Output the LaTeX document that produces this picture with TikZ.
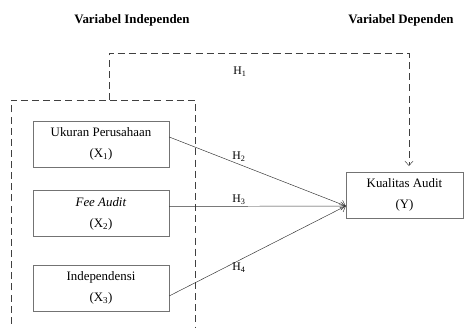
\documentclass[tikz,border=0pt]{standalone}
\usepackage{fontspec}
\setmainfont{Liberation Serif}
\usetikzlibrary{positioning}
\usetikzlibrary{arrows.meta}

\tikzset{
  varbox/.style={draw=black!55, minimum width=4.08cm, minimum height=1.38cm, align=center, inner sep=0pt},
  hlabel/.style={inner sep=0pt, font=\fontsize{10}{12}\selectfont},
  dashline/.style={draw=black!75, dash pattern=on 6pt off 3.5pt},
  link/.style={draw=black!80, -{Straight Barb[length=4pt,width=7pt]}},
}

\begin{document}
\begin{tikzpicture}[x=0.03cm, y=-0.03cm, font=\fontsize{11}{13}\selectfont]
  \useasboundingbox (0,0) rectangle (465,327);
  \node(indep) at (132,20) {\textbf{Variabel Independen}};
  \node(dep) at (401,20) {\textbf{Variabel Dependen}};
  \node(x1) [varbox] at (101,144) {Ukuran Perusahaan\\[5pt](X\textsubscript{1})};
  \node(x2) [varbox, below=0.69cm of x1] {\textit{Fee Audit}\\[5pt](X\textsubscript{2})};
  \node(x3) [varbox, below=0.84cm of x2] {Independensi\\[5pt](X\textsubscript{3})};
  \node(y) [varbox, minimum width=3.51cm] at (404.5,195) {Kualitas Audit\\[5pt](Y)};
  % group frame round the independent variables
  \draw[dashline] (11,335) |- (195,100) -- (195,335);
  \coordinate(grptop) at (109,100);
  \coordinate(h1end) at (409,166);
  \coordinate(yin) at ([yshift=-0.33cm]y.west);
  \draw[dashline, -{Straight Barb[length=4pt,width=7pt]}] (grptop) -- (109,53) -| (h1end);
  \draw[link] ([yshift=0.21cm]x1.east) -- (yin);
  \draw[link] ([yshift=0.21cm]x2.east) -- (yin);
  \draw[link] ([yshift=-0.24cm]x3.east) -- (yin);
  \node(h1) [hlabel] at (240,72) {H\textsubscript{1}};
  \node(h2) [hlabel] at (239,157) {H\textsubscript{2}};
  \node(h3) [hlabel] at (239,200) {H\textsubscript{3}};
  \node(h4) [hlabel] at (239,268) {H\textsubscript{4}};
\end{tikzpicture}
\end{document}
